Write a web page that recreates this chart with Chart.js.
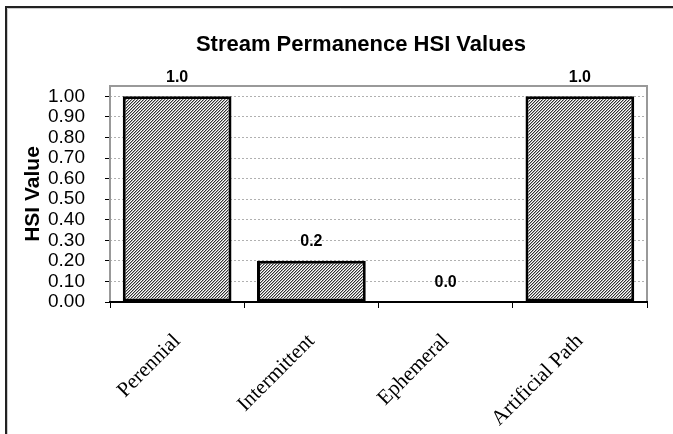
<!DOCTYPE html>
<html>
<head>
<meta charset="utf-8">
<script src="https://cdn.jsdelivr.net/npm/chart.js@4/dist/chart.umd.min.js"></script>
<style>
    html, body { margin: 0; padding: 0; background: #fff; }
    #wrap { width: 673px; height: 434px; position: relative; }
</style>
</head>
<body>
<div id="wrap"><canvas id="hsi-chart"></canvas></div>
<script>
// Veriler
const categories = ['Perennial', 'Intermittent', 'Ephemeral', 'Artificial Path'];
const hsiValues = [1.0, 0.2, 0.0, 1.0];
const yTicks = [0, 0.1, 0.2, 0.3, 0.4, 0.5, 0.6, 0.7, 0.8, 0.9, 1.0];

const chartTitle = 'Stream Permanence HSI Values';
const yTitle = 'HSI Value';

const sansFont = "'Liberation Sans', Arial, sans-serif";
const serifFont = "'Liberation Serif', 'Times New Roman', serif";

// Taralı dolgu (///)
function makeHatch() {
    const c = document.createElement('canvas');
    c.width = 3;
    c.height = 3;
    const g = c.getContext('2d');
    g.fillStyle = '#fff';
    g.fillRect(0, 0, 3, 3);
    for (let y = 0; y < 3; y++) {
        g.fillStyle = '#333';
        g.fillRect(2 - y, y, 1, 1);
        g.fillStyle = '#aaa';
        g.fillRect((3 - y) % 3, y, 1, 1);
    }
    return g.createPattern(c, 'repeat');
}

// Çerçeve, başlık ve değer etiketleri
const decorPlugin = {
    id: 'decor',
    beforeDraw(chart) {
        const ctx = chart.ctx;
        ctx.save();
        ctx.fillStyle = '#fff';
        ctx.fillRect(0, 0, chart.width, chart.height);
        // dış çerçeve
        ctx.strokeStyle = '#222';
        ctx.lineWidth = 2;
        ctx.beginPath();
        ctx.moveTo(6, chart.height);
        ctx.lineTo(6, 7);
        ctx.lineTo(chart.width, 7);
        ctx.stroke();
        ctx.strokeStyle = '#ccc';
        ctx.lineWidth = 1;
        ctx.beginPath();
        ctx.moveTo(7.5, chart.height);
        ctx.lineTo(7.5, 8.5);
        ctx.lineTo(chart.width, 8.5);
        ctx.stroke();
        // başlık
        ctx.fillStyle = '#000';
        ctx.font = 'bold 22px ' + sansFont;
        ctx.textAlign = 'center';
        ctx.textBaseline = 'middle';
        ctx.fillText(chartTitle, 361, 45);
        ctx.restore();
    },
    afterDatasetsDraw(chart) {
        const ctx = chart.ctx;
        const a = chart.chartArea;
        ctx.save();
        // çizim alanı çerçevesi
        ctx.strokeStyle = '#999';
        ctx.lineWidth = 2;
        ctx.beginPath();
        ctx.moveTo(a.left, a.bottom);
        ctx.lineTo(a.left, a.top);
        ctx.lineTo(a.right, a.top);
        ctx.lineTo(a.right, a.bottom);
        ctx.stroke();
        ctx.strokeStyle = '#000';
        ctx.beginPath();
        ctx.moveTo(a.left - 1, a.bottom);
        ctx.lineTo(a.right + 1, a.bottom);
        ctx.stroke();
        // değer etiketleri
        ctx.fillStyle = '#000';
        ctx.font = 'bold 16px ' + sansFont;
        ctx.textAlign = 'center';
        ctx.textBaseline = 'middle';
        chart.getDatasetMeta(0).data.forEach((bar, i) => {
            ctx.fillText(hsiValues[i].toFixed(1), bar.x, bar.y - 19);
        });
        ctx.restore();
    }
};

const ctx = document.getElementById('hsi-chart');

new Chart(ctx, {
    type: 'bar',
    data: {
        labels: categories,
        datasets: [{
            data: hsiValues,
            backgroundColor: makeHatch(),
            borderColor: '#000',
            borderWidth: 3,
            borderSkipped: false,
            categoryPercentage: 1.0,
            barPercentage: 0.81
        }]
    },
    options: {
        responsive: true,
        maintainAspectRatio: false,
        animation: false,
        layout: {
            padding: { left: 0, right: 26, top: 86, bottom: 0 }
        },
        plugins: {
            legend: { display: false },
            title: { display: false },
            tooltip: { enabled: false }
        },
        scales: {
            x: {
                grid: {
                    drawOnChartArea: false,
                    drawTicks: true,
                    tickLength: 6,
                    tickColor: '#000',
                    tickWidth: 1
                },
                border: { display: false },
                ticks: {
                    color: '#000',
                    font: { family: serifFont, size: 21 },
                    minRotation: 45,
                    maxRotation: 45,
                    padding: 21,
                    autoSkip: false
                },
                afterFit(scale) {
                    scale.height = 132;
                }
            },
            y: {
                min: 0,
                max: 1.05,
                grid: {
                    color: '#b0b0b0',
                    lineWidth: 1,
                    tickLength: 5,
                    tickColor: '#000',
                    tickWidth: 1,
                    tickBorderDash: []
                },
                border: { display: false, dash: [2, 2] },
                ticks: {
                    stepSize: 0.1,
                    color: '#000',
                    font: { family: sansFont, size: 19 },
                    padding: 20,
                    autoSkip: false,
                    callback: (v) => Number(v).toFixed(2)
                },
                afterBuildTicks(scale) {
                    scale.ticks = yTicks.map(v => ({ value: v }));
                },
                title: {
                    display: true,
                    text: yTitle,
                    color: '#000',
                    font: { family: sansFont, size: 21, weight: 'bold' },
                    padding: { top: 21, bottom: 0 }
                },
                afterFit(scale) {
                    scale.width = 110;
                }
            }
        }
    },
    plugins: [decorPlugin]
});
</script>
</body>
</html>
